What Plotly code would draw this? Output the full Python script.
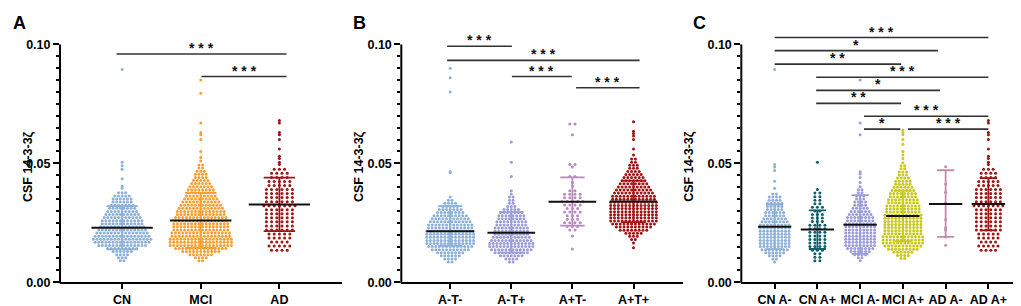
import plotly.graph_objects as go

W, H = 1021, 306

# ---------------- data (CSF 14-3-3 zeta, values in units of 0.001) ----------------
# Each group: row levels of the dot swarm, dot count per row, and single extra points.

# Panel A
A_names = ["CN", "MCI", "AD"]
CN_rows = [9.0, 10.3, 11.6, 12.9, 14.2, 15.5, 16.8, 18.1, 19.4, 20.7, 22.0, 23.3, 24.6, 25.9, 27.2, 28.5, 29.8, 31.1, 32.4, 33.7, 35.0, 36.3, 37.6]
CN_counts = [2, 3, 4, 6, 9, 14, 16, 17, 16, 15, 14, 13, 12, 12, 11, 10, 9, 8, 7, 6, 6, 5, 3]
CN_extra = [39.5, 40.5, 43.5, 47.5, 49.0, 50.5, 89.5]
MCI_rows = [9.0, 10.3, 11.6, 12.9, 14.2, 15.5, 16.8, 18.1, 19.4, 20.7, 22.0, 23.3, 24.6, 25.9, 27.2, 28.5, 29.8, 31.1, 32.4, 33.7, 35.0, 36.3, 37.6, 38.9, 40.2, 41.5, 42.8, 44.1, 45.4, 46.7, 48.0, 49.3]
MCI_counts = [2, 4, 7, 11, 15, 18, 18, 18, 17, 17, 16, 16, 16, 15, 15, 14, 14, 13, 12, 11, 10, 9, 8, 8, 7, 6, 5, 4, 4, 3, 2, 2]
MCI_extra = [51.0, 52.5, 55.0, 60.0, 62.0, 63.0, 67.0, 79.5, 85.0]
AD_rows = [13.5, 15.2, 16.9, 18.6, 20.3, 22.0, 23.7, 25.4, 27.1, 28.8, 30.5, 32.2, 33.9, 35.6, 37.3, 39.0, 40.7, 42.4, 44.1, 45.8, 47.5]
AD_counts = [4, 5, 4, 5, 5, 6, 6, 6, 6, 6, 6, 7, 6, 6, 6, 6, 5, 5, 4, 4, 3]
AD_extra = [49.5, 50.5, 52.0, 53.0, 56.0, 60.0, 62.0, 63.0, 67.0, 68.0]
A_mean = [22.9, 26.0, 32.7]
A_sd_lo = [13.8, 14.4, 21.5]
A_sd_hi = [32.0, 37.6, 44.0]

# Panel B
B_names = ["A-T-", "A-T+", "A+T-", "A+T+"]
ATm_rows = [8.5, 9.8, 11.1, 12.4, 13.7, 15.0, 16.3, 17.6, 18.9, 20.2, 21.5, 22.8, 24.1, 25.4, 26.7, 28.0, 29.3, 30.6, 31.9, 33.2, 34.5]
ATm_counts = [2, 4, 6, 8, 11, 13, 14, 14, 14, 14, 14, 13, 13, 12, 11, 10, 8, 7, 5, 4, 2]
ATm_extra = [35.8, 46.0, 46.5, 80.0, 86.0, 90.0]
ATp_rows = [8.5, 9.8, 11.1, 12.4, 13.7, 15.0, 16.3, 17.6, 18.9, 20.2, 21.5, 22.8, 24.1, 25.4, 26.7, 28.0, 29.3, 30.6, 31.9, 33.2, 34.5, 35.8, 37.1]
ATp_counts = [2, 4, 7, 10, 12, 13, 13, 12, 11, 10, 10, 10, 9, 9, 8, 8, 7, 5, 3, 2, 2, 2, 1]
ATp_extra = [38.5, 44.5, 50.5, 59.0]
ApTm_rows = [14.0, 19.5, 22.0, 23.5, 25.0, 26.5, 28.0, 29.5, 31.0, 32.5, 34.0, 35.5, 37.0, 38.5, 40.5, 42.0, 44.5, 48.5, 49.5, 62.0, 66.5]
ApTm_counts = [1, 1, 2, 3, 4, 3, 3, 4, 3, 4, 5, 4, 4, 2, 1, 1, 2, 1, 2, 1, 2]
ApTm_extra = []
ApTp_rows = [14.5, 16.5, 18.0, 19.3, 20.6, 21.9, 23.2, 24.5, 25.8, 27.1, 28.4, 29.7, 31.0, 32.3, 33.6, 34.9, 36.2, 37.5, 38.8, 40.1, 41.4, 42.7, 44.0, 45.3, 46.6, 47.9, 49.2, 50.5, 51.8]
ApTp_counts = [1, 1, 2, 3, 5, 8, 10, 12, 13, 13, 13, 13, 13, 13, 13, 12, 12, 11, 10, 9, 8, 7, 6, 5, 4, 3, 3, 2, 2]
ApTp_extra = [53.5, 56.0, 60.0, 61.5, 62.5, 63.5, 67.5]
B_mean = [21.5, 20.8, 33.9, 34.0]
B_sd_lo = [15.4, 12.5, 23.8, 25.3]
B_sd_hi = [32.0, 29.5, 44.1, 42.7]

# Panel C
C_names = ["CN A-", "CN A+", "MCI A-", "MCI A+", "AD A-", "AD A+"]
CNm_rows = [8.5, 9.8, 11.1, 12.4, 13.7, 15.0, 16.3, 17.6, 18.9, 20.2, 21.5, 22.8, 24.1, 25.4, 26.7, 28.0, 29.3, 30.6, 31.9, 33.2, 34.5, 35.8, 37.1]
CNm_counts = [1, 2, 4, 6, 8, 9, 9, 9, 9, 9, 9, 9, 9, 8, 7, 6, 6, 5, 5, 5, 4, 4, 2]
CNm_extra = [39.5, 42.5, 47.0, 48.5, 49.5, 89.5]
CNp_rows = [9.0, 10.5, 12.0, 13.5, 15.0, 16.5, 18.0, 19.5, 21.0, 22.5, 24.0, 25.5, 27.0, 28.5, 30.0, 31.5, 33.0, 34.5, 36.0, 37.5, 39.0]
CNp_counts = [2, 2, 2, 3, 4, 4, 4, 4, 4, 4, 4, 3, 3, 3, 2, 3, 2, 2, 2, 2, 1]
CNp_extra = [50.5]
MCIm_rows = [9.0, 10.3, 11.6, 12.9, 14.2, 15.5, 16.8, 18.1, 19.4, 20.7, 22.0, 23.3, 24.6, 25.9, 27.2, 28.5, 29.8, 31.1, 32.4, 33.7, 35.0, 36.3, 37.6, 38.9, 40.2]
MCIm_counts = [1, 2, 4, 6, 8, 9, 9, 9, 9, 9, 9, 9, 9, 8, 8, 7, 6, 5, 4, 4, 3, 3, 2, 2, 1]
MCIm_extra = [42.0, 44.0, 45.5, 46.5, 62.0, 67.0, 85.0]
MCIp_rows = [10.0, 11.3, 12.6, 13.9, 15.2, 16.5, 17.8, 19.1, 20.4, 21.7, 23.0, 24.3, 25.6, 26.9, 28.2, 29.5, 30.8, 32.1, 33.4, 34.7, 36.0, 37.3, 38.6, 39.9, 41.2, 42.5, 43.8, 45.1, 46.4, 47.7, 49.0, 50.3]
MCIp_counts = [2, 4, 6, 9, 11, 12, 12, 12, 11, 11, 11, 11, 11, 11, 11, 10, 10, 10, 9, 9, 8, 8, 7, 6, 5, 5, 4, 3, 3, 2, 2, 1]
MCIp_extra = [52.0, 53.5, 55.0, 58.0, 60.0, 62.0, 63.0, 64.0]
ADm_rows = []
ADm_counts = []
ADm_extra = [15.6, 19.0, 22.0, 22.9, 26.3, 33.0, 33.3, 37.9, 41.3, 48.6]
ADp_rows = [13.5, 15.2, 16.9, 18.6, 20.3, 22.0, 23.7, 25.4, 27.1, 28.8, 30.5, 32.2, 33.9, 35.6, 37.3, 39.0, 40.7, 42.4, 44.1, 45.8, 47.5]
ADp_counts = [4, 5, 4, 5, 5, 6, 6, 6, 6, 6, 6, 7, 6, 6, 6, 6, 5, 5, 4, 4, 3]
ADp_extra = [49.5, 50.5, 52.0, 53.0, 56.0, 60.0, 62.0, 63.0, 67.0, 68.0]
C_mean = [23.3, 22.2, 24.2, 27.9, 32.9, 32.9]
C_sd_lo = [13.9, 14.0, 11.9, 17.3, 19.1, 21.8]
C_sd_hi = [32.7, 30.2, 36.6, 38.5, 47.1, 43.8]

# significance brackets: (start, end in category positions, height, label)
A_sig = [(-0.07, 2.09, 96.0, "* * *"), (1.01, 2.09, 86.5, "* * *")]
B_sig = [(-0.05, 1.01, 99.2, "* * *"), (-0.05, 3.10, 93.3, "* * *"),
         (1.01, 1.99, 86.5, "* * *"), (2.06, 3.10, 81.8, "* * *")]
C_sig = [(0.0, 5.0, 102.9, "* * *"), (0.0, 3.82, 97.4, "*"), (0.0, 2.96, 91.7, "* *"),
         (0.97, 5.0, 86.2, "* * *"), (0.97, 3.87, 80.7, "*"), (0.97, 2.96, 75.2, "* *"),
         (2.09, 5.0, 69.8, "* * *"), (2.09, 2.94, 64.4, "*"), (3.12, 5.0, 64.4, "* * *")]

# ---------------- styling / layout ----------------
FONT = "Liberation Sans, Arial, sans-serif"
BLUE = "#8db0d9"
ORANGE = "#f5a033"
DRED = "#a01414"
PERI = "#9c9cd8"
MAUVE = "#b98ac0"
TEAL = "#0f5f6a"
YEL = "#c8c820"
PINK = "#c88aa8"

YTOP = 0.108
YD = (25.3 / H, (H - 17.8) / H)

panels = [
    dict(letter="A", names=A_names, px=(52.0, 334.3), xr=(-0.79, 2.80), ttl_x=11.7, let_x=3,
         groups=[(CN_rows, CN_counts, CN_extra, BLUE, 3.6),
                 (MCI_rows, MCI_counts, MCI_extra, ORANGE, 3.6),
                 (AD_rows, AD_counts, AD_extra, DRED, 5.2)],
         mean=A_mean, lo=A_sd_lo, hi=A_sd_hi, sig=A_sig),
    dict(letter="B", names=B_names, px=(393.3, 675.0), xr=(-0.80, 3.81), ttl_x=351.7, let_x=343,
         groups=[(ATm_rows, ATm_counts, ATm_extra, BLUE, 3.6),
                 (ATp_rows, ATp_counts, ATp_extra, PERI, 3.6),
                 (ApTm_rows, ApTm_counts, ApTm_extra, MAUVE, 5.2),
                 (ApTp_rows, ApTp_counts, ApTp_extra, DRED, 3.8)],
         mean=B_mean, lo=B_sd_lo, hi=B_sd_hi, sig=B_sig),
    dict(letter="C", names=C_names, px=(733.3, 1015.0), xr=(-0.78, 5.81), ttl_x=690.5, let_x=683,
         groups=[(CNm_rows, CNm_counts, CNm_extra, BLUE, 3.6),
                 (CNp_rows, CNp_counts, CNp_extra, TEAL, 5.0),
                 (MCIm_rows, MCIm_counts, MCIm_extra, PERI, 3.6),
                 (MCIp_rows, MCIp_counts, MCIp_extra, YEL, 3.6),
                 (ADm_rows, ADm_counts, ADm_extra, PINK, 5.0),
                 (ADp_rows, ADp_counts, ADp_extra, DRED, 4.8)],
         mean=C_mean, lo=C_sd_lo, hi=C_sd_hi, sig=C_sig),
]

fig = go.Figure()
shapes = []
annotations = []


def yp(v):
    return YD[0] + v / YTOP * (YD[1] - YD[0])


for k, p in enumerate(panels):
    sfx = "" if k == 0 else str(k + 1)
    xa, ya = "x" + sfx, "y" + sfx
    ppu = (p["px"][1] - p["px"][0]) / (p["xr"][1] - p["xr"][0])
    for gi, (rows, counts, extra, col, sp) in enumerate(p["groups"]):
        step = sp / ppu
        xs, ys = [], []
        for r, n in zip(rows, counts):
            for i in range(n):
                xs.append(gi + (i - (n - 1) / 2) * step)
                ys.append(r / 1000)
        for v in extra:
            xs.append(gi)
            ys.append(v / 1000)
        fig.add_trace(go.Scatter(x=xs, y=ys, mode="markers", xaxis=xa, yaxis=ya,
                                 marker=dict(size=3.0, color=col, line=dict(width=0)),
                                 hoverinfo="skip"))
        # SD bar with caps
        lo, hi, m = p["lo"][gi] / 1000, p["hi"][gi] / 1000, p["mean"][gi] / 1000
        cw = 0.2
        fig.add_trace(go.Scatter(
            x=[gi, gi, None, gi - cw, gi + cw, None, gi - cw, gi + cw],
            y=[lo, hi, None, lo, lo, None, hi, hi],
            mode="lines", xaxis=xa, yaxis=ya, line=dict(color=col, width=1.8), hoverinfo="skip"))
        fig.add_trace(go.Scatter(
            x=[gi - 0.39, gi + 0.39], y=[m, m], mode="lines", xaxis=xa, yaxis=ya,
            line=dict(color="#111111", width=2), hoverinfo="skip"))
    # brackets
    for (x0, x1, h, lab) in p["sig"]:
        shapes.append(dict(type="line", xref=xa, yref=ya, x0=x0, x1=x1, y0=h / 1000, y1=h / 1000,
                           line=dict(color="#333333", width=1.6)))
        annotations.append(dict(x=(x0 + x1) / 2, y=h / 1000, xref=xa, yref=ya, text=lab,
                                showarrow=False, yanchor="bottom", yshift=-3, borderpad=0,
                                font=dict(family=FONT, size=14, color="#111111", weight="bold")))
    # y axis line (0 to 0.10)
    xl = p["px"][0] / W
    shapes.append(dict(type="line", xref="paper", yref="paper", x0=xl, x1=xl, y0=yp(0) - 1 / H,
                       y1=yp(0.1), line=dict(color="black", width=2)))
    # axis title & panel letter
    annotations.append(dict(x=p["ttl_x"] / W, y=(H - 162) / H, xref="paper", yref="paper",
                            text="CSF 14-3-3ζ", textangle=-90, showarrow=False,
                            font=dict(family=FONT, size=12.5, color="black", weight="bold")))
    annotations.append(dict(x=p["let_x"] / W, y=1 - 3 / H, xref="paper", yref="paper",
                            text=p["letter"], showarrow=False, xanchor="left", yanchor="top",
                            font=dict(family=FONT, size=18, color="black", weight="bold")))

    fig.layout["xaxis" + sfx] = dict(
        domain=[p["px"][0] / W, p["px"][1] / W], range=list(p["xr"]), anchor=ya,
        tickmode="array", tickvals=list(range(len(p["names"]))), ticktext=p["names"],
        ticks="outside", ticklen=5, tickwidth=2, tickcolor="black",
        showline=True, linewidth=2, linecolor="black", showgrid=False, zeroline=False,
        tickfont=dict(family=FONT, size=12.5, color="black", weight="bold"))
    fig.layout["yaxis" + sfx] = dict(
        domain=list(YD), range=[0, YTOP], anchor=xa,
        tickmode="array", tickvals=[0, 0.05, 0.1], ticktext=["0.00", "0.05", "0.10"],
        ticks="outside", ticklen=6, tickwidth=2, tickcolor="black",
        minor=dict(tickmode="array",
                   tickvals=[0.005, 0.01, 0.015, 0.02, 0.025, 0.03, 0.035, 0.04, 0.045,
                             0.055, 0.06, 0.065, 0.07, 0.075, 0.08, 0.085, 0.09, 0.095],
                   ticks="outside", ticklen=3, tickwidth=2, tickcolor="black"),
        showline=False, showgrid=False, zeroline=False,
        tickfont=dict(family=FONT, size=12.5, color="black", weight="bold"))

fig.update_layout(width=W, height=H, margin=dict(l=0, r=0, t=0, b=0),
                  paper_bgcolor="white", plot_bgcolor="white", showlegend=False,
                  shapes=shapes, annotations=annotations)

fig.write_html("out.html")
